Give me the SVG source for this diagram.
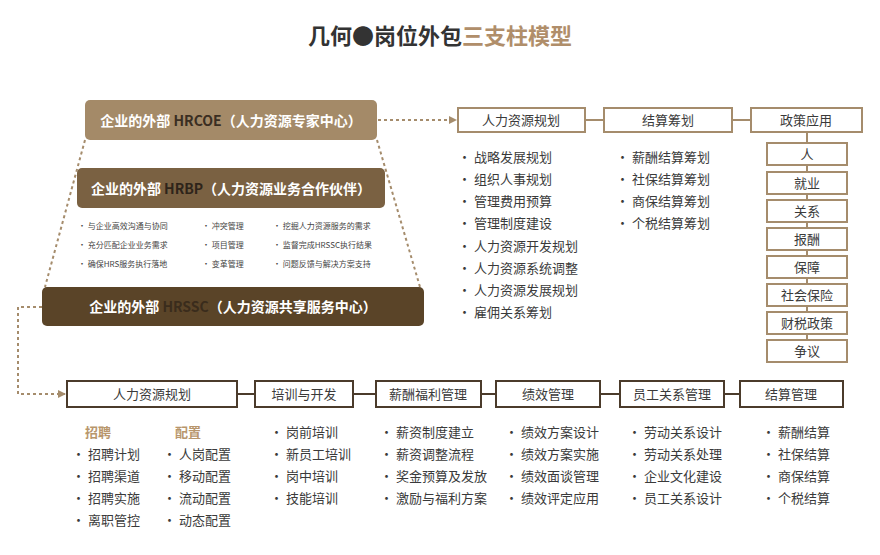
<svg xmlns="http://www.w3.org/2000/svg" width="880" height="555" viewBox="0 0 880 555">
<style>
text{font-family:"Noto Sans CJK SC","Liberation Sans",sans-serif;}
.t{font-size:13px;fill:#3a3a3a}
.s{font-size:8px;fill:#444}
.bh{font-size:14px;font-weight:bold;fill:#fff}
.tb{fill:#fff;stroke:#a58c6c;stroke-width:2}
.db{fill:#fff;stroke:#4b3b2b;stroke-width:2}
.c{text-anchor:middle}
.ln{stroke:#a58c6c;stroke-width:2;fill:none}
.dn{stroke:#4b3b2b;stroke-width:2;fill:none}
.dot{stroke:#a58c6c;stroke-width:2;stroke-dasharray:3 3;fill:none}
.h{font-size:13px;font-weight:bold;fill:#b8966c}
</style>
<defs><marker id="a" markerWidth="8" markerHeight="8" refX="7" refY="4" orient="auto" markerUnits="userSpaceOnUse"><path d="M0,0L8,4L0,8z" fill="#a58c6c"/></marker></defs>
<text x="440" y="44" class="c" style="font-size:22px;font-weight:bold;fill:#333">几何●岗位外包<tspan fill="#b08e6a">三支柱模型</tspan></text>
<g id="connectors">
<path class="dot" d="M85,140L45,287M377,140L420,287"/>
<path class="dot" d="M378,120L456,120" marker-end="url(#a)"/>
<path class="dot" d="M42,307L18,307L18,394L65,394" marker-end="url(#a)"/>
<path class="ln" d="M585,120H604M732,120H751M807,132V362"/>
<path class="dn" d="M237,394H255M353,394H376M481,394H496M600,394H620M724,394H740"/>
</g>
<g id="hrcoe"><rect x="85" y="100" width="292" height="40" rx="5" fill="#a48a68"/><text x="231" y="126" class="c bh">企业的外部 <tspan fill="#3a2e22">HRCOE</tspan>（人力资源专家中心）</text></g>
<g id="hrbp"><rect x="77" y="168" width="308" height="40" rx="5" fill="#7a6142"/><text x="231" y="194" class="c bh">企业的外部 <tspan fill="#2e241a">HRBP</tspan>（人力资源业务合作伙伴）</text></g>
<g id="hrbp-list" class="s">
<text x="78" y="229">• 与企业高效沟通与协同</text><text x="78" y="248">• 充分匹配企业业务需求</text><text x="78" y="267">• 确保HRS服务执行落地</text>
<text x="202" y="229">• 冲突管理</text><text x="202" y="248">• 项目管理</text><text x="202" y="267">• 变革管理</text>
<text x="273" y="229">• 挖掘人力资源服务的需求</text><text x="273" y="248">• 监督完成HRSSC执行结果</text><text x="273" y="267">• 问题反馈与解决方案支持</text>
</g>
<g id="hrssc"><rect x="42" y="287" width="382" height="39" rx="5" fill="#5a4428"/><text x="233" y="312" class="c bh">企业的外部 <tspan fill="#3a2c1c">HRSSC</tspan>（人力资源共享服务中心）</text></g>
<g id="top-boxes" class="t">
<rect class="tb" x="458" y="108" width="127" height="24"/><text x="521" y="125" class="c">人力资源规划</text>
<rect class="tb" x="604" y="108" width="128" height="24"/><text x="668" y="125" class="c">结算筹划</text>
<rect class="tb" x="751" y="108" width="111" height="24"/><text x="806" y="125" class="c">政策应用</text>
</g>
<g id="policy" class="t">
<rect class="tb" x="767" y="143" width="80" height="22"/><text x="807" y="159" class="c">人</text>
<rect class="tb" x="767" y="172" width="80" height="22"/><text x="807" y="188" class="c">就业</text>
<rect class="tb" x="767" y="200" width="80" height="22"/><text x="807" y="216" class="c">关系</text>
<rect class="tb" x="767" y="228" width="80" height="22"/><text x="807" y="244" class="c">报酬</text>
<rect class="tb" x="767" y="256" width="80" height="22"/><text x="807" y="272" class="c">保障</text>
<rect class="tb" x="767" y="284" width="80" height="22"/><text x="807" y="300" class="c">社会保险</text>
<rect class="tb" x="767" y="312" width="80" height="22"/><text x="807" y="328" class="c">财税政策</text>
<rect class="tb" x="767" y="340" width="80" height="22"/><text x="807" y="356" class="c">争议</text>
</g>
<g id="plan-list" class="t">
<text x="458" y="162">· 战略发展规划</text><text x="458" y="184">· 组织人事规划</text><text x="458" y="206">· 管理费用预算</text><text x="458" y="228">· 管理制度建设</text><text x="458" y="251">· 人力资源开发规划</text><text x="458" y="273">· 人力资源系统调整</text><text x="458" y="295">· 人力资源发展规划</text><text x="458" y="317">· 雇佣关系筹划</text>
<text x="616" y="162">· 薪酬结算筹划</text><text x="616" y="184">· 社保结算筹划</text><text x="616" y="206">· 商保结算筹划</text><text x="616" y="228">· 个税结算筹划</text>
</g>
<g id="bottom-boxes" class="t">
<rect class="db" x="67" y="381" width="170" height="26"/><text x="152" y="399" class="c">人力资源规划</text>
<rect class="db" x="255" y="381" width="98" height="26"/><text x="304" y="399" class="c">培训与开发</text>
<rect class="db" x="376" y="381" width="105" height="26"/><text x="428" y="399" class="c">薪酬福利管理</text>
<rect class="db" x="496" y="381" width="104" height="26"/><text x="548" y="399" class="c">绩效管理</text>
<rect class="db" x="620" y="381" width="104" height="26"/><text x="672" y="399" class="c">员工关系管理</text>
<rect class="db" x="740" y="381" width="103" height="26"/><text x="791" y="399" class="c">结算管理</text>
</g>
<g id="bottom-lists" class="t">
<text x="85" y="437" class="h">招聘</text><text x="175" y="437" class="h">配置</text>
<text x="72" y="459">· 招聘计划</text><text x="72" y="481">· 招聘渠道</text><text x="72" y="503">· 招聘实施</text><text x="72" y="525">· 离职管控</text>
<text x="163" y="459">· 人岗配置</text><text x="163" y="481">· 移动配置</text><text x="163" y="503">· 流动配置</text><text x="163" y="525">· 动态配置</text>
<text x="270" y="437">· 岗前培训</text><text x="270" y="459">· 新员工培训</text><text x="270" y="481">· 岗中培训</text><text x="270" y="503">· 技能培训</text>
<text x="380" y="437">· 薪资制度建立</text><text x="380" y="459">· 薪资调整流程</text><text x="380" y="481">· 奖金预算及发放</text><text x="380" y="503">· 激励与福利方案</text>
<text x="505" y="437">· 绩效方案设计</text><text x="505" y="459">· 绩效方案实施</text><text x="505" y="481">· 绩效面谈管理</text><text x="505" y="503">· 绩效评定应用</text>
<text x="628" y="437">· 劳动关系设计</text><text x="628" y="459">· 劳动关系处理</text><text x="628" y="481">· 企业文化建设</text><text x="628" y="503">· 员工关系设计</text>
<text x="762" y="437">· 薪酬结算</text><text x="762" y="459">· 社保结算</text><text x="762" y="481">· 商保结算</text><text x="762" y="503">· 个税结算</text>
</g>
</svg>
